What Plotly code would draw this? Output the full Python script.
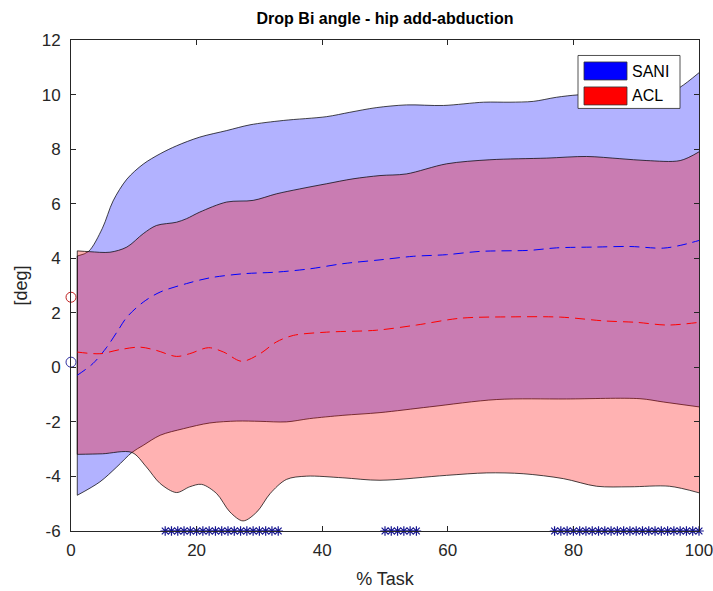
import plotly.graph_objects as go

# ---- data: % task vs hip add-abduction angle [deg] ----
# SANI group: mean and +/- SD band
sani_up_x = [1, 2.8, 5, 6.7, 8.9, 11.5, 14.2, 16.8, 20.5, 24.8, 28.5, 33.8, 40.7, 44.4,
             48.6, 53.4, 59.3, 65.7, 69.9, 73.6, 77.3, 80.8, 86, 91, 95, 97, 100]
sani_up_y = [4.08, 4.25, 5.1, 6.1, 6.9, 7.45, 7.83, 8.12, 8.44, 8.68, 8.89, 9.05, 9.19, 9.35,
             9.52, 9.62, 9.6, 9.72, 9.72, 9.75, 9.9, 9.99, 10.02, 10.0, 10.05, 10.27, 10.8]
sani_lo_x = [1, 4.6, 7.3, 9.7, 11.5, 14.2, 17.9, 22.1, 26.4, 30.1, 34.3, 38, 43.3, 49.2,
             57.1, 67.8, 78.9, 90.6, 94.3, 100]
sani_lo_y = [-4.69, -4.2, -3.65, -3.12, -2.86, -2.49, -2.25, -2.04, -1.97, -1.98, -2.0, -1.88,
             -1.76, -1.66, -1.45, -1.18, -1.16, -1.15, -1.27, -1.45]
sani_mean_x = [1, 3.5, 5.7, 7.5, 8.9, 11.5, 14.2, 18.4, 22.1, 27.4, 32.7, 38, 43.3, 49.2,
               54.5, 59.8, 65.1, 73.1, 77.3, 83.7, 89, 94.3, 97, 100]
sani_mean_y = [-0.29, 0.14, 0.74, 1.36, 1.84, 2.39, 2.76, 3.07, 3.28, 3.43, 3.49, 3.61, 3.8,
               3.94, 4.07, 4.13, 4.25, 4.29, 4.38, 4.41, 4.43, 4.37, 4.47, 4.65]

# ACL group: mean and +/- SD band
acl_up_x = [1, 3, 6.2, 8.9, 11.5, 13.6, 16.8, 18.4, 20.5, 24.8, 29, 32.7, 36.4, 40.7, 44.9,
            49.2, 53.4, 59.8, 66.7, 75.7, 82.1, 87.4, 91.7, 97, 100]
acl_up_y = [4.27, 4.24, 4.22, 4.41, 4.9, 5.2, 5.32, 5.45, 5.69, 6.06, 6.12, 6.36, 6.54, 6.73,
            6.91, 7.03, 7.09, 7.46, 7.61, 7.67, 7.73, 7.65, 7.58, 7.58, 7.9]
acl_lo_x = [1, 5, 9.7, 12, 14.2, 16.8, 18.9, 20.8, 23.2, 25.3, 27.4, 29.6, 31.7, 34.3, 37.5,
            43.3, 49.2, 59.8, 66.2, 72, 78.4, 83.7, 89, 95.3, 100]
acl_lo_y = [-3.19, -3.17, -3.12, -3.65, -4.26, -4.59, -4.38, -4.29, -4.63, -5.3, -5.63, -5.3,
            -4.63, -4.11, -3.99, -4.05, -4.14, -3.96, -3.87, -3.9, -4.08, -4.36, -4.38, -4.36, -4.6]
acl_mean_x = [1, 4.6, 7.8, 11, 13.6, 16.8, 18.9, 21.9, 24.3, 27.2, 30.1, 32.7, 35.4, 40.7,
              48.6, 55, 62, 70, 78, 85, 90, 95, 100]
acl_mean_y = [0.56, 0.5, 0.65, 0.74, 0.62, 0.4, 0.5, 0.72, 0.56, 0.22, 0.5, 0.93, 1.17, 1.29,
              1.36, 1.55, 1.8, 1.85, 1.84, 1.7, 1.65, 1.55, 1.65]

# initial-contact values
sani_start = 0.19
acl_start = 2.57

# samples where the groups differ significantly
sig_x = list(range(15, 34)) + list(range(50, 56)) + list(range(77, 101))
sig_level = -6

title = "Drop Bi angle - hip add-abduction"
x_label = "% Task"
y_label = "[deg]"
x_ticks = [0, 20, 40, 60, 80, 100]
y_ticks = [-6, -4, -2, 0, 2, 4, 6, 8, 10, 12]
y_tick_text = ["-6", "-4", "-2", "0", "2", "4", "6", "8", "10", "12"]

FONT = "Liberation Sans, Arial, Helvetica, sans-serif"
AX = "#262626"
EDGE = "rgba(0,0,0,0.9)"
BLUE_FILL = "rgba(0,0,255,0.3)"
RED_FILL = "rgba(255,0,0,0.3)"

fig = go.Figure()


def band(lo_x, lo_y, up_x, up_y, fill):
    fig.add_trace(go.Scatter(x=lo_x, y=lo_y, mode="lines",
                             line=dict(color=EDGE, width=0.8, shape="spline", smoothing=0.9),
                             showlegend=False, hoverinfo="skip"))
    fig.add_trace(go.Scatter(x=up_x, y=up_y, mode="lines", fill="tonexty", fillcolor=fill,
                             line=dict(color=EDGE, width=0.8, shape="spline", smoothing=0.9),
                             showlegend=False, hoverinfo="skip"))
    # closing edge at the start of the band
    fig.add_trace(go.Scatter(x=[lo_x[0], up_x[0]], y=[lo_y[0], up_y[0]], mode="lines",
                             line=dict(color=EDGE, width=0.8),
                             showlegend=False, hoverinfo="skip"))


band(sani_lo_x, sani_lo_y, sani_up_x, sani_up_y, BLUE_FILL)
band(acl_lo_x, acl_lo_y, acl_up_x, acl_up_y, RED_FILL)

fig.add_trace(go.Scatter(x=sani_mean_x, y=sani_mean_y, mode="lines",
                         line=dict(color="#0000ff", width=1, dash="10px,6px",
                                   shape="spline", smoothing=0.9),
                         showlegend=False, hoverinfo="skip"))
fig.add_trace(go.Scatter(x=acl_mean_x, y=acl_mean_y, mode="lines",
                         line=dict(color="#ff0000", width=1, dash="10px,6px",
                                   shape="spline", smoothing=0.9),
                         showlegend=False, hoverinfo="skip"))

fig.add_trace(go.Scatter(x=[0], y=[sani_start], mode="markers", cliponaxis=False,
                         marker=dict(symbol="circle-open", size=10, color="#3030a0",
                                     line=dict(width=1)),
                         showlegend=False, hoverinfo="skip"))
fig.add_trace(go.Scatter(x=[0], y=[acl_start], mode="markers", cliponaxis=False,
                         marker=dict(symbol="circle-open", size=10, color="#c02020",
                                     line=dict(width=1)),
                         showlegend=False, hoverinfo="skip"))

fig.add_trace(go.Scatter(x=sig_x, y=[sig_level] * len(sig_x), mode="markers", cliponaxis=False,
                         marker=dict(symbol="asterisk-open", size=8, color="#141490",
                                     line=dict(width=1.2, color="#141490")),
                         showlegend=False, hoverinfo="skip"))

# legend box drawn in paper coordinates
L, R, T, B = 71, 699, 39.5, 531
W, H = R - L, B - T


def px(x):
    return (x - L) / W


def py(y):
    return (B - y) / H


shapes = [
    dict(type="rect", xref="paper", yref="paper", x0=px(578), x1=px(680), y0=py(108), y1=py(55),
         fillcolor="white", line=dict(color=AX, width=0.8), layer="above"),
    dict(type="rect", xref="paper", yref="paper", x0=px(584), x1=px(627), y0=py(79.5), y1=py(61.5),
         fillcolor="#0000ff", line=dict(color="#333333", width=0.8), layer="above"),
    dict(type="rect", xref="paper", yref="paper", x0=px(584), x1=px(627), y0=py(104.5), y1=py(86.5),
         fillcolor="#ff0000", line=dict(color="#333333", width=0.8), layer="above"),
]
annotations = [
    dict(text="SANI", xref="paper", yref="paper", x=px(630), y=py(71), xanchor="left",
         yanchor="middle", showarrow=False, font=dict(family=FONT, size=16, color="#000000")),
    dict(text="ACL", xref="paper", yref="paper", x=px(630), y=py(95.5), xanchor="left",
         yanchor="middle", showarrow=False, font=dict(family=FONT, size=16, color="#000000")),
]

fig.update_layout(
    width=713, height=591,
    margin=dict(l=L, r=713 - R, t=T, b=591 - B, autoexpand=False),
    paper_bgcolor="white", plot_bgcolor="white",
    title=dict(text="<b>" + title + "</b>", x=0.5 * (L + R) / 713, xanchor="center",
               y=1 - 18 / 591, yanchor="middle",
               font=dict(family=FONT, size=16, color="#000000")),
    shapes=shapes, annotations=annotations,
    showlegend=False,
)
fig.update_xaxes(range=[0, 100], tickvals=x_ticks, ticks="inside", ticklen=5,
                 tickcolor=AX, showline=True, linecolor=AX, linewidth=1, mirror="ticks",
                 showgrid=False, zeroline=False, automargin=False, ticklabelstandoff=4,
                 ticklabeloverflow="allow",
                 tickfont=dict(family=FONT, size=17, color=AX),
                 title=dict(text=x_label, standoff=12,
                            font=dict(family=FONT, size=18, color=AX)))
fig.update_yaxes(range=[-6, 12], tickvals=y_ticks, ticktext=y_tick_text, ticks="inside",
                 ticklen=5, tickcolor=AX, showline=True, linecolor=AX, linewidth=1,
                 mirror="ticks", showgrid=False, zeroline=False, automargin=False,
                 ticklabelstandoff=6, ticklabeloverflow="allow",
                 tickfont=dict(family=FONT, size=17, color=AX),
                 title=dict(text=y_label, standoff=9,
                            font=dict(family=FONT, size=18, color=AX)))

fig.write_html("out.html")
